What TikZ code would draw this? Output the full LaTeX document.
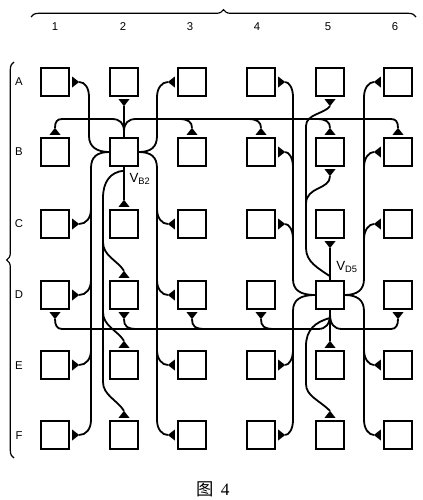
\documentclass[tikz,border=0pt]{standalone}
\usepackage{fontspec}
\setmainfont{Liberation Sans}
\newfontfamily\cjkfont{Noto Sans CJK SC}
\newfontfamily\seriffont{Liberation Serif}
\usetikzlibrary{calc,decorations.pathreplacing}
\newcommand\portS[1]{\fill ($(#1.south)+(-5.5,2.5)$) -- ($(#1.south)+(5.5,2.5)$) -- ($(#1.south)+(0,9.5)$) -- cycle; \coordinate (#1s) at ($(#1.south)+(0,9.5)$);}
\newcommand\portN[1]{\fill ($(#1.north)+(-5.5,-2.5)$) -- ($(#1.north)+(5.5,-2.5)$) -- ($(#1.north)+(0,-9.5)$) -- cycle; \coordinate (#1n) at ($(#1.north)+(0,-9.5)$);}
\newcommand\portE[1]{\fill ($(#1.east)+(2.5,-5.5)$) -- ($(#1.east)+(2.5,5.5)$) -- ($(#1.east)+(9.5,0)$) -- cycle; \coordinate (#1e) at ($(#1.east)+(9.5,0)$);}
\newcommand\portW[1]{\fill ($(#1.west)+(-2.5,-5.5)$) -- ($(#1.west)+(-2.5,5.5)$) -- ($(#1.west)+(-9.5,0)$) -- cycle; \coordinate (#1w) at ($(#1.west)+(-9.5,0)$);}
\begin{document}
\begin{tikzpicture}[x=0.75pt,y=-0.75pt,
  cell/.style={draw, line width=1pt, minimum size=21pt, inner sep=0pt},
  wire/.style={line width=1.35pt},
  lab/.style={font=\fontsize{8.5}{10}\selectfont, inner sep=0pt},
  vlab/.style={font=\fontsize{10}{12}\selectfont, inner sep=0pt},
  bracestyle/.style={line width=0.9pt, decorate, decoration={brace, amplitude=5.5pt}}]
\useasboundingbox (0,0) rectangle (422,500);
% cells
\foreach \r/\y in {A/82,B/152,C/224,D/295,E/365,F/435}
  \foreach \c/\x in {1/55,2/124,3/192,4/261,5/330,6/398}
    \node[cell] (\r\c) at (\x,\y) {};
% labels
\foreach \c/\x in {1/55,2/123,3/190,4/257,5/328,6/395}
  \node[lab] (col\c) at (\x,27) {\c};
\foreach \r/\y in {A/82,B/152,C/224,D/295,E/366,F/436}
  \node[lab] (row\r) at (19,\y) {\r};
\draw[bracestyle] (31,17) -- (416,17);
\draw[bracestyle] (14,458) -- (14,62);
\node[vlab] (vb2) at (140,179) {V\textsubscript{B2}};
\node[vlab] (vd5) at (347,267) {V\textsubscript{D5}};
\node[font=\fontsize{13}{15}\selectfont] (cap) at (213,489) {{\cjkfont 图}\hspace{0.4em}{\seriffont 4}};
% ports
\portS{A2}\portS{A5}\portS{B5}\portS{C5}\portS{D1}\portS{D2}\portS{D3}\portS{D4}\portS{D6}
\portN{B1}\portN{B3}\portN{B4}\portN{B5}\portN{B6}\portN{C2}\portN{D2}\portN{E2}\portN{F2}\portN{E5}\portN{F5}
\portE{A1}\portE{C1}\portE{D1}\portE{E1}\portE{F1}\portE{A4}\portE{B4}\portE{C4}\portE{E4}\portE{F4}
\portW{A3}\portW{C3}\portW{D3}\portW{E3}\portW{F3}\portW{A6}\portW{B6}\portW{C6}\portW{E6}\portW{F6}
% ---------- V_B2 ----------
\draw[wire] (B2.north) -- (A2s);
\draw[wire] ($(B2.north)+(0,-6)$) .. controls +(0,-8) and +(8,0) .. (112,119) -- (62,119) .. controls (57,119) and (55,122) .. (B1n);
\draw[wire] ($(B2.north)+(0,-6)$) .. controls +(0,-8) and +(-8,0) .. (136,119) -- (391,119) .. controls (396,119) and (398,122) .. (B6n);
\foreach \n/\x in {B3/192,B4/261,B5/330}
  \draw[wire] (\x-13,119) .. controls (\x-4,119) and (\x,122) .. (\n n);
% column 1
\draw[wire] (B2.west) .. controls (97,152) and (89,147) .. (89,136) -- (89,97) .. controls (89,88) and (85,82) .. (A1e);
\draw[wire] (B2.west) .. controls (97,152) and (91,157) .. (91,168) -- (91,420) .. controls (91,429) and (86,435) .. (F1e);
\foreach \n/\y in {C1/224,D1/295,E1/365}
  \draw[wire] (91,\y-15) .. controls (91,\y-6) and (86,\y) .. (\n e);
% column 2
\draw[wire] (B2.south) -- (C2n);
\draw[wire] ($(B2.south)+(0,4)$) .. controls (110,172) and (103,182) .. (103,198) -- (103,382) .. controls (103,395) and (117,400) .. (F2n);
\foreach \n/\y in {D2/272,E2/342}
  \draw[wire] (103,\y-30) .. controls (103,\y-16) and (117,\y-12) .. (\n n);
% column 3
\draw[wire] (B2.east) .. controls (151,152) and (157,147) .. (157,136) -- (157,97) .. controls (157,88) and (162,82) .. (A3w);
\draw[wire] (B2.east) .. controls (151,152) and (157,157) .. (157,168) -- (157,420) .. controls (157,429) and (162,435) .. (F3w);
\foreach \n/\y in {C3/224,D3/295,E3/365}
  \draw[wire] (157,\y-15) .. controls (157,\y-6) and (162,\y) .. (\n w);
% ---------- V_D5 ----------
\draw[wire] (D5.north) -- (C5s);
\draw[wire] (D5.south) -- (E5n);
\draw[wire] ($(D5.north)+(0,-4)$) .. controls (318,268) and (306,262) .. (306,248) -- (306,126) .. controls (306,114) and (324,114) .. (A5s);
\draw[wire] (B5s) .. controls (330,190) and (306,186) .. (306,204);
\draw[wire] (330,318) .. controls (315,322) and (306,330) .. (306,346) -- (306,384) .. controls (306,396) and (319,400) .. (F5n);
% column 4
\draw[wire] (D5.west) .. controls (300,295) and (293,290) .. (293,279) -- (293,97) .. controls (293,88) and (289,82) .. (A4e);
\draw[wire] (D5.west) .. controls (300,295) and (293,300) .. (293,311) -- (293,420) .. controls (293,429) and (289,435) .. (F4e);
\foreach \n/\y in {B4/152,C4/224}
  \draw[wire] (293,\y+15) .. controls (293,\y+6) and (289,\y) .. (\n e);
\draw[wire] (293,350) .. controls (293,359) and (289,365) .. (E4e);
% column 6
\draw[wire] (D5.east) .. controls (357,295) and (364,290) .. (364,279) -- (364,97) .. controls (364,88) and (369,82) .. (A6w);
\draw[wire] (D5.east) .. controls (357,295) and (364,300) .. (364,311) -- (364,420) .. controls (364,429) and (369,435) .. (F6w);
\foreach \n/\y in {B6/152,C6/224}
  \draw[wire] (364,\y+15) .. controls (364,\y+6) and (369,\y) .. (\n w);
\draw[wire] (364,350) .. controls (364,359) and (369,365) .. (E6w);
% D bus
\draw[wire] (330,314) .. controls (330,324) and (326,329) .. (318,329) -- (62,329) .. controls (57,329) and (55,325) .. (D1s);
\draw[wire] (330,314) .. controls (330,324) and (334,329) .. (342,329) -- (391,329) .. controls (396,329) and (398,325) .. (D6s);
\foreach \n/\x in {D2/124,D3/192,D4/261}
  \draw[wire] (\n s) .. controls (\x,326) and (\x+3,329) .. (\x+13,329);
\end{tikzpicture}
\end{document}
